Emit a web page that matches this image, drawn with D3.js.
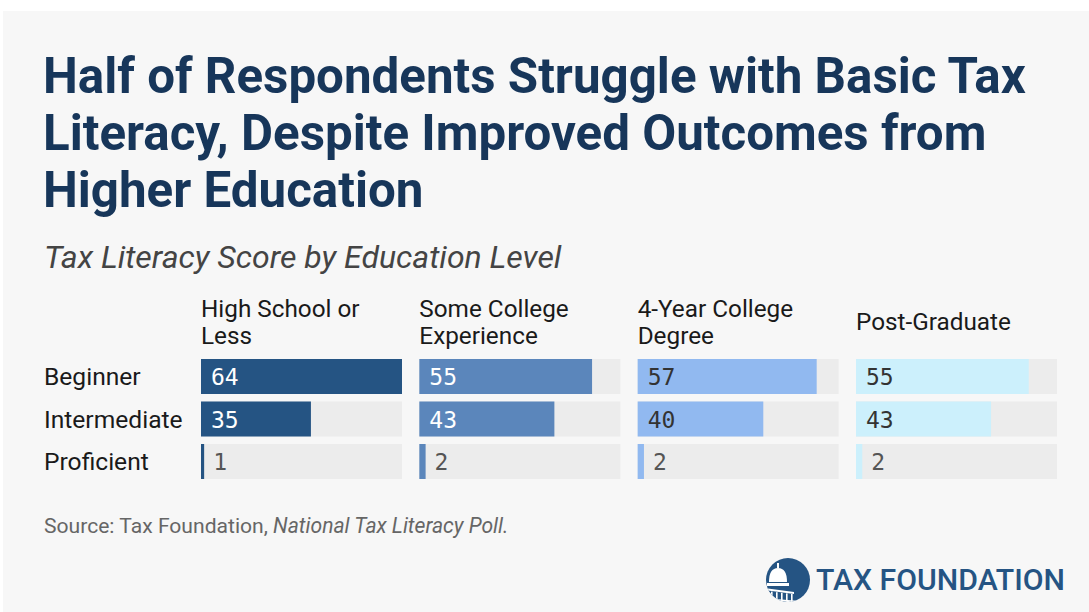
<!DOCTYPE html>
<html>
<head>
<meta charset="utf-8">
<script src="https://cdn.jsdelivr.net/npm/d3@7"></script>
<style>
  html, body { margin: 0; padding: 0; background: #ffffff; }
  svg { display: block; }
</style>
</head>
<body>
<div id="chart"></div>
<script>
const TITLE_LINES = ['Half of Respondents Struggle with Basic Tax', 'Literacy, Despite Improved Outcomes from', 'Higher Education'];
const SUBTITLE = 'Tax Literacy Score by Education Level';
const LEVELS = ['Beginner', 'Intermediate', 'Proficient'];
const GROUPS = ['High School or Less', 'Some College Experience', '4-Year College Degree', 'Post-Graduate'];
const GROUP_LINES = [['High School or', 'Less'], ['Some College', 'Experience'], ['4-Year College', 'Degree'], ['Post-Graduate']];
const HIGH_SCHOOL = [64, 35, 1];
const SOME_COLLEGE = [55, 43, 2];
const FOUR_YEAR = [57, 40, 2];
const POST_GRAD = [55, 43, 2];
const GROUP_COLORS = ['#255483', '#5b86bb', '#91b9f0', '#ccf0fc'];
const LABEL_COLORS = ['#ffffff', '#ffffff', '#333333', '#333333'];

const width = 1089;
const height = 612;

const svg = d3.select('#chart')
  .append('svg')
  .attr('width', width)
  .attr('height', height);

// background panel
svg.append('rect')
  .attr('x', 3)
  .attr('y', 11)
  .attr('width', width - 3)
  .attr('height', height - 11)
  .attr('fill', '#f7f7f7');

// title
svg.append('g')
  .selectAll('text')
  .data(TITLE_LINES)
  .join('text')
  .attr('x', 43)
  .attr('y', (d, i) => 93 + i * 57)
  .attr('font-family', 'Roboto, sans-serif')
  .attr('font-weight', 700)
  .attr('font-size', 49.3)
  .attr('fill', '#17365a')
  .text((d) => d);

svg.append('text')
  .attr('x', 44)
  .attr('y', 268)
  .attr('font-family', 'Roboto, sans-serif')
  .attr('font-style', 'italic')
  .attr('font-size', 32)
  .attr('fill', '#444444')
  .text(SUBTITLE);

const values = [HIGH_SCHOOL, SOME_COLLEGE, FOUR_YEAR, POST_GRAD];
const rows = [];
GROUPS.forEach((g, gi) => {
  LEVELS.forEach((l, li) => {
    rows.push({ group: g, gi, level: l, value: values[gi][li] });
  });
});

const x = d3.scaleBand()
  .domain(GROUPS)
  .range([201, 1057])
  .paddingInner(0.0794);

const y = d3.scaleBand()
  .domain(LEVELS)
  .range([359, 479])
  .paddingInner(7.5 / 42.5);

const w = d3.scaleLinear()
  .domain([0, d3.max(rows, (d) => d.value)])
  .range([0, x.bandwidth()]);

// column headers
GROUP_LINES.forEach((lines, gi) => {
  const top = lines.length === 1 ? 330 : 317;
  svg.append('g')
    .selectAll('text')
    .data(lines)
    .join('text')
    .attr('x', x(GROUPS[gi]))
    .attr('y', (d, i) => top + i * 27)
    .attr('font-family', 'Roboto, sans-serif')
    .attr('font-size', 24.3)
    .attr('fill', '#1a1a1a')
    .text((d) => d);
});

// row labels
svg.append('g')
  .selectAll('text')
  .data(LEVELS)
  .join('text')
  .attr('x', 44)
  .attr('y', (d) => y(d) + y.bandwidth() / 2 + 8.5)
  .attr('font-family', 'Roboto, sans-serif')
  .attr('font-size', 24.6)
  .attr('fill', '#1a1a1a')
  .text((d) => d);

const cells = svg.append('g')
  .selectAll('g')
  .data(rows)
  .join('g')
  .attr('transform', (d) => `translate(${x(d.group)},${y(d.level)})`);

cells.append('rect')
  .attr('width', x.bandwidth())
  .attr('height', y.bandwidth())
  .attr('fill', '#ececec');

cells.append('rect')
  .attr('width', (d) => w(d.value))
  .attr('height', y.bandwidth())
  .attr('fill', (d) => GROUP_COLORS[d.gi]);

cells.append('text')
  .attr('x', (d) => (w(d.value) < 30 ? w(d.value) + 9 : 10))
  .attr('y', y.bandwidth() / 2 + 8.5)
  .attr('font-family', '"DejaVu Sans Mono", monospace')
  .attr('font-size', 23)
  .attr('fill', (d) => (w(d.value) < 30 ? '#555555' : LABEL_COLORS[d.gi]))
  .text((d) => d.value);

// source
const src = svg.append('text')
  .attr('x', 44)
  .attr('y', 533)
  .attr('font-family', 'Roboto, sans-serif')
  .attr('font-size', 21.1)
  .attr('fill', '#666666');
src.append('tspan').text('Source: Tax Foundation, ');
src.append('tspan').attr('font-style', 'italic').text('National Tax Literacy Poll.');

// logo
const logo = svg.append('g').attr('transform', 'translate(788,580)');
logo.append('clipPath').attr('id', 'logoClip')
  .append('circle').attr('r', 22);
logo.append('circle').attr('r', 22).attr('fill', '#255483');
const dome = logo.append('g').attr('clip-path', 'url(#logoClip)').attr('fill', '#ffffff');
dome.append('rect').attr('x', -11).attr('y', -17).attr('width', 2).attr('height', 5);
dome.append('path').attr('d', 'M-19,2 Q-19,-12 -10,-12 Q-1,-12 -1,2 Z');
dome.append('rect').attr('x', -21).attr('y', 3).attr('width', 22).attr('height', 3);
dome.append('path').attr('d', 'M-24,8 L6,12 L6,14 L-24,10 Z');
for (let i = 0; i < 6; i += 1) {
  dome.append('rect').attr('x', -22 + i * 5).attr('y', 11 + i * 0.6).attr('width', 1.6).attr('height', 8);
}
dome.append('path').attr('d', 'M-26,18 L12,21 L12,23 L-26,20 Z');

svg.append('text')
  .attr('x', 816)
  .attr('y', 590)
  .attr('font-family', 'Roboto, sans-serif')
  .attr('font-weight', 500)
  .attr('font-size', 30)
  .attr('fill', '#255483')
  .attr('textLength', 249)
  .attr('lengthAdjust', 'spacingAndGlyphs')
  .text('TAX FOUNDATION');
</script>
</body>
</html>
